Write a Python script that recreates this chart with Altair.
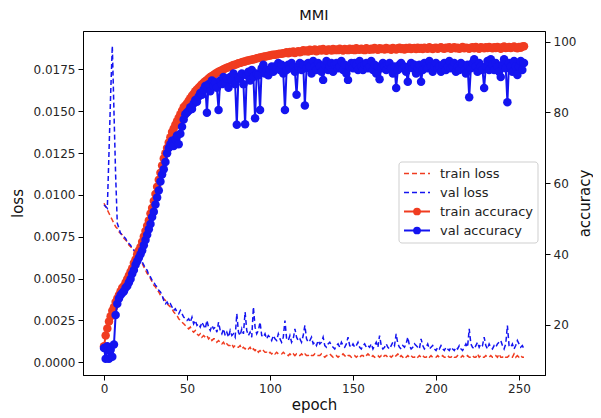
import altair as alt
import pandas as pd

# ---------------- data ----------------
tr_loss = [
    0.0095, 0.0093, 0.0091, 0.0089, 0.0087, 0.0085, 0.0083, 0.0081, 0.0080, 0.0078,
    0.0077, 0.0076, 0.0074, 0.0073, 0.0072, 0.0070, 0.0069, 0.0068, 0.0067, 0.0065,
    0.0064, 0.0062, 0.0061, 0.0059, 0.0057, 0.0055, 0.0053, 0.0052, 0.0050, 0.0048,
    0.0046, 0.0045, 0.0043, 0.0042, 0.0040, 0.0039, 0.0038, 0.0037, 0.0035, 0.0034,
    0.0033, 0.0032, 0.0030, 0.0029, 0.0028, 0.0026, 0.0025, 0.0024, 0.0023, 0.0022,
    0.0021, 0.0020, 0.0021, 0.0019, 0.0018, 0.0019, 0.0017, 0.0016, 0.0017, 0.0015,
    0.0016, 0.0015, 0.0016, 0.0014, 0.0015, 0.0013, 0.0014, 0.0014, 0.0012, 0.0013,
    0.0012, 0.0011, 0.0012, 0.0010, 0.0011, 0.0010, 0.0010, 0.0011, 0.0009, 0.0010,
    0.0009, 0.0009, 0.0010, 0.0008, 0.0009, 0.0008, 0.0009, 0.0008, 0.0009, 0.0007,
    0.0008, 0.0007, 0.0008, 0.0006, 0.0007, 0.0006, 0.0007, 0.0006, 0.0006, 0.0005,
    0.0006, 0.0005, 0.0006, 0.0005, 0.0006, 0.0005, 0.0005, 0.0005, 0.0006, 0.0005,
    0.0005, 0.0004, 0.0005, 0.0004, 0.0005, 0.0004, 0.0005, 0.0004, 0.0004, 0.0005,
    0.0004, 0.0005, 0.0004, 0.0004, 0.0005, 0.0004, 0.0004, 0.0005, 0.0004, 0.0004,
    0.0004, 0.0005, 0.0004, 0.0003, 0.0004, 0.0004, 0.0005, 0.0004, 0.0003, 0.0004,
    0.0004, 0.0003, 0.0004, 0.0004, 0.0005, 0.0004, 0.0003, 0.0004, 0.0004, 0.0003,
    0.0004, 0.0004, 0.0003, 0.0004, 0.0003, 0.0004, 0.0004, 0.0003, 0.0004, 0.0005,
    0.0004, 0.0003, 0.0004, 0.0003, 0.0004, 0.0004, 0.0003, 0.0004, 0.0003, 0.0004,
    0.0004, 0.0003, 0.0004, 0.0003, 0.0004, 0.0003, 0.0004, 0.0005, 0.0003, 0.0004,
    0.0003, 0.0004, 0.0003, 0.0004, 0.0003, 0.0004, 0.0003, 0.0003, 0.0004, 0.0003,
    0.0004, 0.0003, 0.0004, 0.0003, 0.0003, 0.0004, 0.0003, 0.0004, 0.0003, 0.0003,
    0.0003, 0.0004, 0.0003, 0.0003, 0.0004, 0.0003, 0.0003, 0.0004, 0.0003, 0.0003,
    0.0004, 0.0003, 0.0003, 0.0004, 0.0003, 0.0003, 0.0004, 0.0003, 0.0003, 0.0004,
    0.0003, 0.0003, 0.0004, 0.0003, 0.0003, 0.0005, 0.0003, 0.0004, 0.0003, 0.0003,
    0.0004, 0.0003, 0.0003, 0.0004, 0.0003, 0.0003, 0.0004, 0.0003, 0.0005, 0.0003,
    0.0003, 0.0004, 0.0003, 0.0003, 0.0004, 0.0003, 0.0003, 0.0005, 0.0003, 0.0004,
    0.0003, 0.0004, 0.0003, 0.0003,
]

va_loss = [
    0.0094, 0.0093, 0.0092, 0.0125, 0.0160, 0.0189, 0.0150, 0.0112, 0.0083, 0.0080,
    0.0077, 0.0076, 0.0075, 0.0074, 0.0072, 0.0071, 0.0070, 0.0068, 0.0067, 0.0066,
    0.0065, 0.0063, 0.0062, 0.0060, 0.0058, 0.0056, 0.0055, 0.0052, 0.0051, 0.0049,
    0.0048, 0.0046, 0.0045, 0.0043, 0.0042, 0.0040, 0.0037, 0.0035, 0.0036, 0.0034,
    0.0035, 0.0033, 0.0031, 0.0032, 0.0030, 0.0029, 0.0031, 0.0029, 0.0027, 0.0026,
    0.0025, 0.0026, 0.0024, 0.0027, 0.0023, 0.0025, 0.0022, 0.0023, 0.0021, 0.0024,
    0.0022, 0.0020, 0.0025, 0.0021, 0.0019, 0.0022, 0.0020, 0.0021, 0.0018, 0.0024,
    0.0019, 0.0017, 0.0020, 0.0016, 0.0018, 0.0015, 0.0019, 0.0016, 0.0017, 0.0015,
    0.0029, 0.0018, 0.0016, 0.0020, 0.0017, 0.0030, 0.0019, 0.0016, 0.0018, 0.0015,
    0.0033, 0.0021, 0.0017, 0.0019, 0.0024, 0.0016, 0.0015, 0.0017, 0.0014, 0.0016,
    0.0015, 0.0013, 0.0016, 0.0014, 0.0013, 0.0017, 0.0014, 0.0012, 0.0015, 0.0025,
    0.0014, 0.0013, 0.0016, 0.0012, 0.0014, 0.0020, 0.0015, 0.0013, 0.0014, 0.0012,
    0.0016, 0.0022, 0.0014, 0.0012, 0.0013, 0.0015, 0.0011, 0.0012, 0.0010, 0.0013,
    0.0011, 0.0012, 0.0015, 0.0010, 0.0009, 0.0011, 0.0012, 0.0010, 0.0009, 0.0008,
    0.0010, 0.0011, 0.0009, 0.0012, 0.0010, 0.0009, 0.0011, 0.0015, 0.0010, 0.0009,
    0.0011, 0.0009, 0.0010, 0.0012, 0.0009, 0.0008, 0.0010, 0.0011, 0.0009, 0.0010,
    0.0009, 0.0011, 0.0008, 0.0010, 0.0012, 0.0009, 0.0016, 0.0010, 0.0008, 0.0009,
    0.0011, 0.0009, 0.0008, 0.0010, 0.0012, 0.0010, 0.0017, 0.0011, 0.0009, 0.0008,
    0.0010, 0.0009, 0.0011, 0.0015, 0.0010, 0.0008, 0.0009, 0.0011, 0.0010, 0.0009,
    0.0008, 0.0014, 0.0010, 0.0008, 0.0009, 0.0011, 0.0008, 0.0009, 0.0010, 0.0008,
    0.0007, 0.0009, 0.0008, 0.0010, 0.0008, 0.0007, 0.0009, 0.0008, 0.0007, 0.0009,
    0.0008, 0.0007, 0.0009, 0.0008, 0.0010, 0.0008, 0.0007, 0.0009, 0.0011, 0.0009,
    0.0020, 0.0011, 0.0009, 0.0008, 0.0010, 0.0012, 0.0009, 0.0011, 0.0010, 0.0015,
    0.0010, 0.0008, 0.0011, 0.0009, 0.0008, 0.0010, 0.0009, 0.0011, 0.0012, 0.0013,
    0.0010, 0.0008, 0.0011, 0.0022, 0.0010, 0.0009, 0.0011, 0.0008, 0.0010, 0.0013,
    0.0011, 0.0009, 0.0010, 0.0008,
]

tr_acc = [
    14, 17, 19, 21, 22.5, 24, 25, 26.5, 27.5, 28.5,
    29.5, 30.5, 31, 32, 33, 34, 35, 36, 37.5, 38.5,
    40, 41, 42, 43.5, 45, 46.5, 48, 49.5, 51.5, 53,
    55, 57, 59, 61, 63, 65, 67, 68.5, 70, 71.5,
    73, 74.5, 75.5, 76.5, 77.5, 78.5, 79.5, 80.5, 81.5, 82,
    82.5, 83.3, 84, 84.7, 85.3, 86, 86.5, 87, 87.5, 88,
    88.4, 88.8, 89.2, 89.6, 90, 90.3, 90.6, 90.9, 91.2, 91.5,
    91.7, 91.9, 92.2, 92.4, 92.6, 92.8, 93.0, 93.2, 93.4, 93.5,
    93.7, 93.9, 94.0, 94.2, 94.3, 94.4, 94.6, 94.7, 94.8, 94.9,
    95.0, 95.1, 95.3, 95.4, 95.5, 95.6, 95.7, 95.8, 95.9, 96.0,
    96.1, 96.2, 96.3, 96.3, 96.4, 96.5, 96.6, 96.6, 96.7, 96.8,
    97.0, 96.7, 97.1, 96.9, 97.2, 96.8, 97.1, 97.3, 97.0, 97.2,
    97.6, 97.3, 97.5, 97.2, 97.7, 97.4, 97.6, 97.8, 97.3, 97.6,
    97.8, 97.5, 97.9, 97.6, 97.4, 97.8, 97.7, 97.5, 97.9, 97.6,
    97.8, 97.6, 98.0, 97.7, 97.5, 97.9, 97.8, 97.6, 98.0, 97.7,
    97.9, 97.6, 98.1, 97.8, 97.7, 98.0, 97.8, 97.6, 98.1, 97.9,
    97.7, 98.0, 97.8, 98.2, 97.9, 97.7, 98.1, 97.9, 98.0, 97.8,
    98.2, 97.9, 98.0, 97.7, 98.2, 98.0, 97.8, 98.1, 98.3, 97.9,
    98.1, 97.8, 98.2, 98.0, 98.3, 97.9, 98.1, 98.2, 97.9, 98.3,
    98.0, 98.2, 97.9, 98.3, 98.1, 98.0, 98.4, 98.1, 97.9, 98.2,
    98.3, 98.0, 98.2, 98.4, 98.1, 98.0, 98.3, 98.2, 98.4, 98.0,
    98.2, 98.4, 98.1, 98.3, 98.0, 98.2, 98.5, 98.1, 98.3, 98.2,
    98.0, 98.3, 98.4, 98.1, 98.5, 98.2, 98.0, 98.4, 98.3, 98.1,
    98.4, 98.2, 98.5, 98.3, 98.1, 98.4, 98.2, 98.5, 98.3, 98.0,
    98.4, 98.6, 98.2, 98.3, 98.5, 98.2, 98.4, 98.6, 98.3, 98.1,
    98.5, 98.3, 98.6, 98.7,
]

va_acc = [
    13.5, 10.5, 14, 10.5, 13, 11, 14.5, 22.8, 26, 27.5,
    28.5, 29, 29.5, 30.5, 31, 32, 33, 34.5, 35.5, 37,
    38, 39, 40, 41, 42.5, 44, 45.5, 47, 48.5, 50.5,
    52, 54, 56, 58, 60.5, 62.5, 64, 66, 68.5, 70,
    71, 72, 70.5, 72.5, 73.5, 71, 74, 76, 78, 79.5,
    80, 80.5, 81.5, 81, 82.5, 83.5, 83, 84.5, 85.5, 85,
    86.5, 87.5, 79.9, 88, 86, 89, 87.5, 88.5, 87, 80.7,
    89, 88, 90, 88.5, 89.5, 87, 90, 89, 91, 88,
    76.5, 90, 89.5, 91, 88, 76.7, 90.5, 91.5, 89, 92,
    90, 78.4, 91, 90.5, 80.7, 92.5, 93.5, 91, 92, 90.5,
    92, 93, 91.5, 93, 92.5, 94, 92, 93.5, 91, 80.7,
    92, 93.5, 92.5, 94, 93, 91.5, 85, 93, 94, 92,
    93.5, 82, 92.5, 94, 93, 91, 94.5, 93, 92, 94,
    93, 91.5, 89.2, 93.5, 94.5, 92, 93, 94, 91.5, 93.5,
    94, 92.5, 93, 94.5, 92, 93.5, 91, 89.2, 93, 94,
    92.5, 94, 93.5, 92, 94.5, 93, 92, 93.5, 94, 92.5,
    93, 94.5, 92, 93.5, 91, 93, 89.4, 92.5, 94, 93,
    92, 93.5, 94, 92.5, 91, 93, 86.9, 92, 93.5, 94,
    92.5, 93, 91.5, 88.7, 93, 94, 92.5, 93.5, 91, 92.5,
    93.5, 88.7, 92, 94, 93, 92.5, 94.5, 93, 91.5, 93,
    94, 92.5, 93, 91.5, 93.5, 94, 92, 93, 94.5, 92.5,
    93, 94, 91.5, 93, 92, 94, 93.5, 92, 91, 93.5,
    84.3, 92.5, 94, 95, 93, 91.5, 94, 93, 92, 86.9,
    93, 94.5, 92, 95, 93.5, 92, 94, 93, 91.5, 90,
    93.5, 95, 92.5, 82.9, 94, 93, 91.5, 94.5, 93, 90.6,
    93, 94.5, 92, 94,
]

legend_labels = ["train loss", "val loss", "train accuracy", "val accuracy"]
loss_ticks = [0.0, 0.0025, 0.005, 0.0075, 0.01, 0.0125, 0.015, 0.0175]
acc_ticks = [20, 40, 60, 80, 100]
epoch_ticks = [0, 50, 100, 150, 200, 250]
chart_title = "MMI"

RED = "#f03c20"
BLUE = "#1414f0"
FONT = "DejaVu Sans"

W, H = 462, 344


def frame(vals, name):
    return pd.DataFrame({"epoch": list(range(len(vals))), name: vals})


x_enc = alt.X(
    "epoch:Q",
    scale=alt.Scale(domain=[-12.65, 265.65], nice=False, zero=False),
    axis=alt.Axis(values=epoch_ticks, title="epoch", titleX=W / 2, titleY=34,
                  titleBaseline="alphabetic", titleAlign="center"),
)

loss_scale = alt.Scale(domain=[-0.000758, 0.019787], nice=False, zero=False)
acc_scale = alt.Scale(domain=[5.88, 103.0], nice=False, zero=False)

loss_axis = alt.Axis(values=loss_ticks, format=".4f", title="loss", orient="left",
                     titleAngle=270, titleX=-61, titleY=H / 2, titleAlign="center",
                     titleBaseline="alphabetic")
acc_axis = alt.Axis(values=acc_ticks, title="accuracy", orient="right",
                    titleAngle=270, titleX=44, titleY=H / 2, titleAlign="center",
                    titleBaseline="alphabetic")

trl = alt.Chart(frame(tr_loss, "v")).mark_line(
    strokeWidth=1.5, strokeDash=[5, 3], color=RED
).encode(x=x_enc, y=alt.Y("v:Q", scale=loss_scale, axis=loss_axis))
val = alt.Chart(frame(va_loss, "v")).mark_line(
    strokeWidth=1.5, strokeDash=[5, 3], color=BLUE
).encode(x=x_enc, y=alt.Y("v:Q", scale=loss_scale, axis=loss_axis))
loss_layer = alt.layer(trl, val)

tra = alt.Chart(frame(tr_acc, "a"))
vaa = alt.Chart(frame(va_acc, "a"))
acc_y = alt.Y("a:Q", scale=acc_scale, axis=acc_axis)
MS = 72
acc_layer = alt.layer(
    tra.mark_line(strokeWidth=2, color=RED).encode(x=x_enc, y=acc_y),
    tra.mark_circle(size=MS, opacity=1, color=RED).encode(x=x_enc, y=acc_y),
    vaa.mark_line(strokeWidth=2, color=BLUE).encode(x=x_enc, y=acc_y),
    vaa.mark_circle(size=MS, opacity=1, color=BLUE).encode(x=x_enc, y=acc_y),
)

# ---------------- legend and title (drawn by hand, matplotlib style) ----------------
one = pd.DataFrame({"k": [0]})
lx0, lx1 = 316, 455
ly0, ly1 = 131, 212
rows = [142.5, 161.5, 180.5, 199.5]
hx0, hx1, hmid, tx = 321, 347, 334, 357
extra_layers = [
    alt.Chart(one).mark_text(align="center", baseline="alphabetic", font=FONT,
                             fontSize=14.5, color="#111111").encode(
        x=alt.value(W / 2), y=alt.value(-11), text=alt.value(chart_title)),
    alt.Chart(one).mark_rect(fill="white", fillOpacity=0.8, stroke="#cfcfcf",
                             strokeWidth=1, cornerRadius=3).encode(
        x=alt.value(lx0), x2=alt.value(lx1), y=alt.value(ly0), y2=alt.value(ly1)),
]
styles = [(RED, True), (BLUE, True), (RED, False), (BLUE, False)]
for lab, (col, dashed), ry in zip(legend_labels, styles, rows):
    if dashed:
        extra_layers.append(
            alt.Chart(one).mark_rule(color=col, strokeWidth=1.5, strokeDash=[5, 3]).encode(
                x=alt.value(hx0), x2=alt.value(hx1), y=alt.value(ry)))
    else:
        extra_layers.append(
            alt.Chart(one).mark_rule(color=col, strokeWidth=2).encode(
                x=alt.value(hx0), x2=alt.value(hx1), y=alt.value(ry)))
        extra_layers.append(
            alt.Chart(one).mark_circle(color=col, size=60, opacity=1).encode(
                x=alt.value(hmid), y=alt.value(ry)))
    extra_layers.append(
        alt.Chart(one).mark_text(align="left", baseline="middle", font=FONT,
                                 fontSize=13, color="#222222").encode(
            x=alt.value(tx), y=alt.value(ry), text=alt.value(lab)))

chart = alt.layer(loss_layer, acc_layer, *extra_layers).resolve_scale(
    y="independent"
).properties(
    width=W,
    height=H,
    padding={"left": 75, "top": 23, "right": 48, "bottom": 38},
    autosize=alt.AutoSizeParams(type="none"),
).configure_view(
    stroke="black", strokeWidth=1
).configure_axis(
    grid=False,
    labelFont=FONT,
    labelFontSize=12,
    labelColor="#262626",
    labelPadding=3,
    tickSize=5,
    tickColor="black",
    domainColor="black",
    titleFont=FONT,
    titleFontSize=15,
    titleFontWeight="normal",
    titleColor="#111111",
)

chart.save("out.html", embed_options={"renderer": "svg", "actions": False})
